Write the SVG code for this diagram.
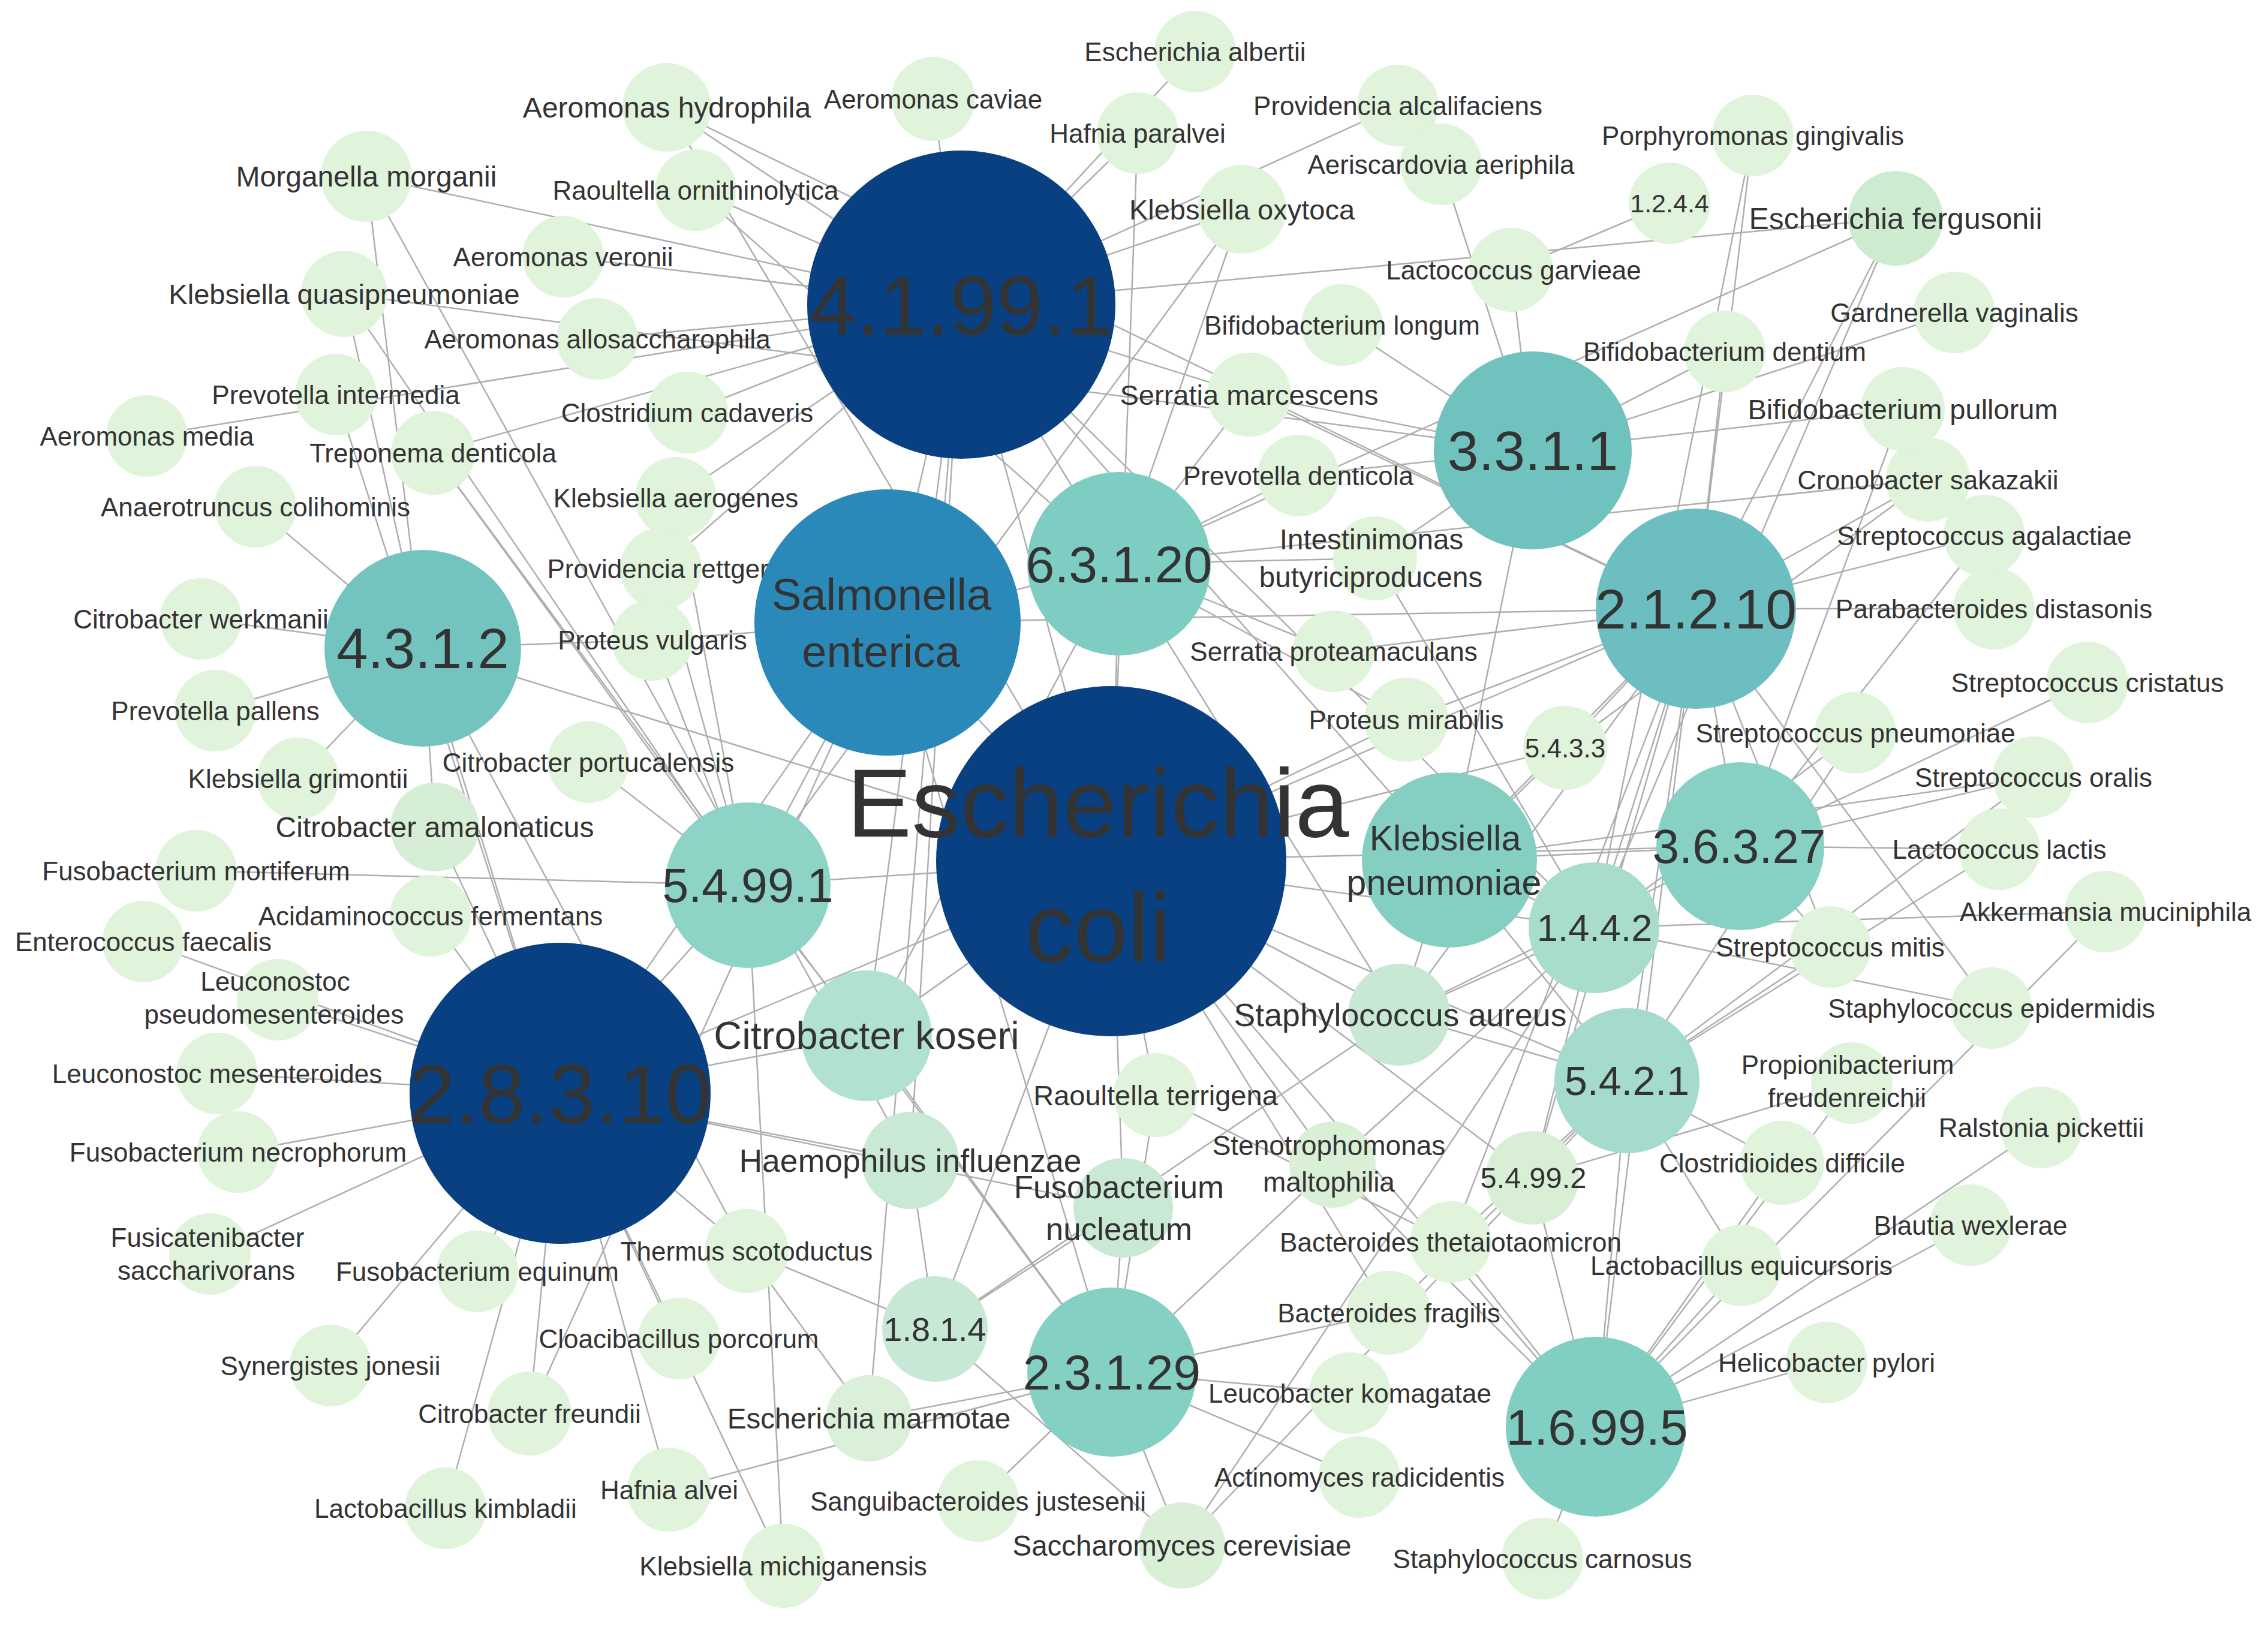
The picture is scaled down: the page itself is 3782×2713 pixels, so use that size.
<svg xmlns="http://www.w3.org/2000/svg" width="3782" height="2713" viewBox="0 0 3782 2713">
<style>
#edges line{stroke:#aeaeae;stroke-width:2.5;fill:none}
circle{fill:#e0f3db}
#nodes{font-family:"Liberation Sans",Arial,Helvetica,sans-serif;font-size:44px}
text{fill:#333333;text-anchor:middle}
.hub{fill:#084081}
</style>
<rect width="3782" height="2713" fill="#ffffff"/>
<g id="edges">
<line x1="1112" y1="179" x2="1603" y2="508"/><line x1="1112" y1="179" x2="2828" y2="1015"/><line x1="1112" y1="179" x2="1853" y2="1436"/>
<line x1="1556" y1="165" x2="1603" y2="508"/><line x1="1993" y1="86" x2="1603" y2="508"/><line x1="1897" y1="222" x2="1853" y2="1436"/>
<line x1="1897" y1="222" x2="1603" y2="508"/><line x1="2331" y1="176" x2="1603" y2="508"/><line x1="2403" y1="274" x2="2556" y2="751"/>
<line x1="2071" y1="349" x2="1603" y2="508"/><line x1="2071" y1="349" x2="1866" y2="940"/><line x1="2071" y1="349" x2="1247" y2="1476"/>
<line x1="2923" y1="226" x2="2828" y2="1015"/><line x1="2923" y1="226" x2="2658" y2="1547"/><line x1="2784" y1="339" x2="2520" y2="450"/>
<line x1="3161" y1="364" x2="1603" y2="508"/><line x1="3161" y1="364" x2="1866" y2="940"/><line x1="3161" y1="364" x2="2828" y2="1015"/>
<line x1="3161" y1="364" x2="2658" y2="1547"/><line x1="2520" y1="450" x2="2556" y2="751"/><line x1="611" y1="294" x2="1603" y2="508"/>
<line x1="611" y1="294" x2="705" y2="1081"/><line x1="611" y1="294" x2="1518" y2="1935"/><line x1="1160" y1="317" x2="1603" y2="508"/>
<line x1="1160" y1="317" x2="1866" y2="940"/><line x1="939" y1="428" x2="1603" y2="508"/><line x1="574" y1="490" x2="2556" y2="751"/>
<line x1="574" y1="490" x2="705" y2="1081"/><line x1="574" y1="490" x2="1247" y2="1476"/><line x1="996" y1="565" x2="1603" y2="508"/>
<line x1="560" y1="658" x2="934" y2="1823"/><line x1="245" y1="727" x2="1603" y2="508"/><line x1="722" y1="755" x2="1603" y2="508"/>
<line x1="722" y1="755" x2="1854" y2="2288"/><line x1="722" y1="755" x2="1247" y2="1476"/><line x1="1146" y1="688" x2="1603" y2="508"/>
<line x1="426" y1="845" x2="705" y2="1081"/><line x1="1127" y1="830" x2="1603" y2="508"/><line x1="1127" y1="830" x2="1247" y2="1476"/>
<line x1="1102" y1="948" x2="1603" y2="508"/><line x1="1102" y1="948" x2="1247" y2="1476"/><line x1="1088" y1="1067" x2="705" y2="1081"/>
<line x1="1088" y1="1067" x2="1480" y2="1038"/><line x1="1088" y1="1067" x2="1247" y2="1476"/><line x1="335" y1="1032" x2="705" y2="1081"/>
<line x1="359" y1="1185" x2="705" y2="1081"/><line x1="497" y1="1298" x2="705" y2="1081"/><line x1="981" y1="1271" x2="1247" y2="1476"/>
<line x1="725" y1="1379" x2="705" y2="1081"/><line x1="725" y1="1379" x2="934" y2="1823"/><line x1="327" y1="1452" x2="1247" y2="1476"/>
<line x1="718" y1="1527" x2="934" y2="1823"/><line x1="239" y1="1570" x2="934" y2="1823"/><line x1="463" y1="1667" x2="934" y2="1823"/>
<line x1="362" y1="1790" x2="934" y2="1823"/><line x1="397" y1="1921" x2="934" y2="1823"/><line x1="350" y1="2091" x2="934" y2="1823"/>
<line x1="551" y1="2277" x2="934" y2="1823"/><line x1="796" y1="2120" x2="934" y2="1823"/><line x1="743" y1="2515" x2="934" y2="1823"/>
<line x1="883" y1="2357" x2="934" y2="1823"/><line x1="883" y1="2357" x2="1480" y2="1038"/><line x1="1132" y1="2232" x2="934" y2="1823"/>
<line x1="1306" y1="2611" x2="934" y2="1823"/><line x1="1306" y1="2611" x2="1247" y2="1476"/><line x1="1116" y1="2484" x2="934" y2="1823"/>
<line x1="1116" y1="2484" x2="1854" y2="2288"/><line x1="1245" y1="2086" x2="934" y2="1823"/><line x1="1245" y1="2086" x2="1559" y2="2216"/>
<line x1="1245" y1="2086" x2="1449" y2="2365"/><line x1="1449" y1="2365" x2="1854" y2="2288"/><line x1="1449" y1="2365" x2="1603" y2="508"/>
<line x1="1518" y1="1935" x2="1559" y2="2216"/><line x1="1518" y1="1935" x2="934" y2="1823"/><line x1="934" y1="1823" x2="1873" y2="2014"/>
<line x1="1559" y1="2216" x2="1873" y2="2014"/><line x1="1559" y1="2216" x2="1853" y2="1436"/><line x1="1559" y1="2216" x2="1971" y2="2577"/>
<line x1="1873" y1="2014" x2="1854" y2="2288"/><line x1="1873" y1="2014" x2="1853" y2="1436"/><line x1="1927" y1="1826" x2="1853" y2="1436"/>
<line x1="1927" y1="1826" x2="1854" y2="2288"/><line x1="1927" y1="1826" x2="2419" y2="2071"/><line x1="2222" y1="1942" x2="1854" y2="2288"/>
<line x1="2222" y1="1942" x2="2658" y2="1547"/><line x1="2222" y1="1942" x2="2661" y2="2379"/><line x1="2222" y1="1942" x2="1853" y2="1436"/>
<line x1="1631" y1="2503" x2="1854" y2="2288"/><line x1="1971" y1="2577" x2="1854" y2="2288"/><line x1="1971" y1="2577" x2="2658" y2="1547"/>
<line x1="1971" y1="2577" x2="2713" y2="1802"/><line x1="2419" y1="2071" x2="2661" y2="2379"/><line x1="2419" y1="2071" x2="2713" y2="1802"/>
<line x1="2316" y1="2189" x2="1854" y2="2288"/><line x1="2316" y1="2189" x2="2713" y2="1802"/><line x1="2251" y1="2323" x2="1854" y2="2288"/>
<line x1="2267" y1="2463" x2="1854" y2="2288"/><line x1="2572" y1="2599" x2="2661" y2="2379"/><line x1="3046" y1="2272" x2="2661" y2="2379"/>
<line x1="3286" y1="2043" x2="2661" y2="2379"/><line x1="3404" y1="1880" x2="2661" y2="2379"/><line x1="2904" y1="2110" x2="2661" y2="2379"/>
<line x1="2904" y1="2110" x2="2713" y2="1802"/><line x1="2972" y1="1939" x2="2661" y2="2379"/><line x1="2972" y1="1939" x2="2713" y2="1802"/>
<line x1="3088" y1="1806" x2="2555" y2="1964"/><line x1="3088" y1="1806" x2="2661" y2="2379"/><line x1="3511" y1="1520" x2="2658" y2="1547"/>
<line x1="3511" y1="1520" x2="2661" y2="2379"/><line x1="3321" y1="1681" x2="2828" y2="1015"/><line x1="3321" y1="1681" x2="2658" y2="1547"/>
<line x1="3052" y1="1579" x2="2902" y2="1411"/><line x1="3052" y1="1579" x2="2713" y2="1802"/><line x1="3334" y1="1416" x2="2902" y2="1411"/>
<line x1="3334" y1="1416" x2="2713" y2="1802"/><line x1="3391" y1="1296" x2="2902" y2="1411"/><line x1="3391" y1="1296" x2="2417" y2="1434"/>
<line x1="3391" y1="1296" x2="2713" y2="1802"/><line x1="3481" y1="1138" x2="2902" y2="1411"/><line x1="3094" y1="1222" x2="2658" y2="1547"/>
<line x1="3094" y1="1222" x2="2713" y2="1802"/><line x1="3309" y1="893" x2="2902" y2="1411"/><line x1="3309" y1="893" x2="2828" y2="1015"/>
<line x1="3325" y1="1015" x2="2828" y2="1015"/><line x1="3215" y1="800" x2="1866" y2="940"/><line x1="3215" y1="800" x2="2828" y2="1015"/>
<line x1="3215" y1="800" x2="2610" y2="1247"/><line x1="3173" y1="682" x2="2556" y2="751"/><line x1="3173" y1="682" x2="2902" y2="1411"/>
<line x1="3259" y1="521" x2="2556" y2="751"/><line x1="2876" y1="586" x2="2556" y2="751"/><line x1="2876" y1="586" x2="2828" y2="1015"/>
<line x1="2238" y1="542" x2="2556" y2="751"/><line x1="2083" y1="658" x2="1603" y2="508"/><line x1="2083" y1="658" x2="2556" y2="751"/>
<line x1="2083" y1="658" x2="1866" y2="940"/><line x1="2083" y1="658" x2="2828" y2="1015"/><line x1="2165" y1="793" x2="1866" y2="940"/>
<line x1="2165" y1="793" x2="2556" y2="751"/><line x1="2293" y1="931" x2="1866" y2="940"/><line x1="2293" y1="931" x2="2556" y2="751"/>
<line x1="2293" y1="931" x2="2658" y2="1547"/><line x1="2224" y1="1086" x2="2828" y2="1015"/><line x1="2224" y1="1086" x2="1866" y2="940"/>
<line x1="2345" y1="1200" x2="2828" y2="1015"/><line x1="2345" y1="1200" x2="1853" y2="1436"/><line x1="2345" y1="1200" x2="1866" y2="940"/>
<line x1="2333" y1="1692" x2="2658" y2="1547"/><line x1="2333" y1="1692" x2="2902" y2="1411"/><line x1="2333" y1="1692" x2="2713" y2="1802"/>
<line x1="2333" y1="1692" x2="1853" y2="1436"/><line x1="2333" y1="1692" x2="2417" y2="1434"/><line x1="2333" y1="1692" x2="1559" y2="2216"/>
<line x1="2333" y1="1692" x2="1866" y2="940"/><line x1="2333" y1="1692" x2="2828" y2="1015"/><line x1="2417" y1="1434" x2="2902" y2="1411"/>
<line x1="1853" y1="1436" x2="2902" y2="1411"/><line x1="2417" y1="1434" x2="2828" y2="1015"/><line x1="2417" y1="1434" x2="2610" y2="1247"/>
<line x1="2417" y1="1434" x2="2658" y2="1547"/><line x1="2417" y1="1434" x2="2713" y2="1802"/><line x1="2417" y1="1434" x2="2556" y2="751"/>
<line x1="2610" y1="1247" x2="2828" y2="1015"/><line x1="2610" y1="1247" x2="1853" y2="1436"/><line x1="2828" y1="1015" x2="1853" y2="1436"/>
<line x1="2828" y1="1015" x2="1480" y2="1038"/><line x1="2828" y1="1015" x2="2419" y2="2071"/><line x1="2828" y1="1015" x2="2555" y2="1964"/>
<line x1="2828" y1="1015" x2="2658" y2="1547"/><line x1="2828" y1="1015" x2="2713" y2="1802"/><line x1="2828" y1="1015" x2="2661" y2="2379"/>
<line x1="2828" y1="1015" x2="2902" y2="1411"/><line x1="2828" y1="1015" x2="3052" y2="1579"/><line x1="1603" y1="508" x2="1480" y2="1038"/>
<line x1="1603" y1="508" x2="1445" y2="1727"/><line x1="1603" y1="508" x2="1518" y2="1935"/><line x1="1603" y1="508" x2="1853" y2="1436"/>
<line x1="1603" y1="508" x2="2417" y2="1434"/><line x1="1603" y1="508" x2="2658" y2="1547"/><line x1="1603" y1="508" x2="1866" y2="940"/>
<line x1="1480" y1="1038" x2="1247" y2="1476"/><line x1="1480" y1="1038" x2="934" y2="1823"/><line x1="1480" y1="1038" x2="1866" y2="940"/>
<line x1="1480" y1="1038" x2="1853" y2="1436"/><line x1="1480" y1="1038" x2="1854" y2="2288"/><line x1="1247" y1="1476" x2="1853" y2="1436"/>
<line x1="1247" y1="1476" x2="1445" y2="1727"/><line x1="1247" y1="1476" x2="934" y2="1823"/><line x1="705" y1="1081" x2="1853" y2="1436"/>
<line x1="705" y1="1081" x2="934" y2="1823"/><line x1="705" y1="1081" x2="1245" y2="2086"/><line x1="934" y1="1823" x2="1853" y2="1436"/>
<line x1="934" y1="1823" x2="1445" y2="1727"/><line x1="1445" y1="1727" x2="1853" y2="1436"/><line x1="1445" y1="1727" x2="1866" y2="940"/>
<line x1="1445" y1="1727" x2="1854" y2="2288"/><line x1="1866" y1="940" x2="1853" y2="1436"/><line x1="1853" y1="1436" x2="2316" y2="2189"/>
<line x1="1853" y1="1436" x2="2555" y2="1964"/><line x1="1853" y1="1436" x2="2661" y2="2379"/><line x1="1853" y1="1436" x2="2658" y2="1547"/>
<line x1="1853" y1="1436" x2="2713" y2="1802"/><line x1="2555" y1="1964" x2="2658" y2="1547"/><line x1="2555" y1="1964" x2="2661" y2="2379"/>
<line x1="2713" y1="1802" x2="2661" y2="2379"/>
</g>
<g id="nodes">
<g id="n-aer-hyd"><circle cx="1112" cy="179" r="74"/><text x="1112" y="196" font-size="48">Aeromonas hydrophila</text></g>
<g id="n-aer-cav"><circle cx="1556" cy="165" r="70"/><text x="1556" y="181">Aeromonas caviae</text></g>
<g id="n-esc-alb"><circle cx="1993" cy="86" r="68"/><text x="1993" y="102">Escherichia albertii</text></g>
<g id="n-haf-par"><circle cx="1897" cy="222" r="68"/><text x="1897" y="238">Hafnia paralvei</text></g>
<g id="n-pro-alc"><circle cx="2331" cy="176" r="68"/><text x="2331" y="192">Providencia alcalifaciens</text></g>
<g id="n-aer-aer"><circle cx="2403" cy="274" r="68"/><text x="2403" y="290">Aeriscardovia aeriphila</text></g>
<g id="n-kle-oxy"><circle cx="2071" cy="349" r="74"/><text x="2071" y="366" font-size="47">Klebsiella oxytoca</text></g>
<g id="n-por-gin"><circle cx="2923" cy="226" r="68"/><text x="2923" y="242">Porphyromonas gingivalis</text></g>
<g id="n-1244"><circle cx="2784" cy="339" r="68"/><text x="2784" y="354" font-size="43">1.2.4.4</text></g>
<g id="n-esc-fer"><circle cx="3161" cy="364" r="79" style="fill:#cdebcf"/><text x="3161" y="382" font-size="50">Escherichia fergusonii</text></g>
<g id="n-lac-gar"><circle cx="2520" cy="450" r="70"/><text x="2524" y="466">Lactococcus garvieae</text></g>
<g id="n-mor-mor"><circle cx="611" cy="294" r="76"/><text x="611" y="311" font-size="48">Morganella morganii</text></g>
<g id="n-rao-orn"><circle cx="1160" cy="317" r="68"/><text x="1160" y="333">Raoultella ornithinolytica</text></g>
<g id="n-aer-ver"><circle cx="939" cy="428" r="68"/><text x="939" y="444">Aeromonas veronii</text></g>
<g id="n-kle-qua"><circle cx="574" cy="490" r="72"/><text x="574" y="507" font-size="47">Klebsiella quasipneumoniae</text></g>
<g id="n-aer-all"><circle cx="996" cy="565" r="68"/><text x="996" y="581">Aeromonas allosaccharophila</text></g>
<g id="n-pre-int"><circle cx="560" cy="658" r="68"/><text x="560" y="674">Prevotella intermedia</text></g>
<g id="n-aer-med"><circle cx="245" cy="727" r="68"/><text x="245" y="743">Aeromonas media</text></g>
<g id="n-tre-den"><circle cx="722" cy="755" r="70"/><text x="722" y="771">Treponema denticola</text></g>
<g id="n-clo-cad"><circle cx="1146" cy="688" r="68"/><text x="1146" y="704">Clostridium cadaveris</text></g>
<g id="n-ana-col"><circle cx="426" cy="845" r="68"/><text x="426" y="861">Anaerotruncus colihominis</text></g>
<g id="n-kle-aer"><circle cx="1127" cy="830" r="68"/><text x="1127" y="846">Klebsiella aerogenes</text></g>
<g id="n-pro-ret"><circle cx="1102" cy="948" r="68"/><text x="1102" y="964">Providencia rettgeri</text></g>
<g id="n-pro-vul"><circle cx="1088" cy="1067" r="68"/><text x="1088" y="1083">Proteus vulgaris</text></g>
<g id="n-cit-wer"><circle cx="335" cy="1032" r="68"/><text x="335" y="1048">Citrobacter werkmanii</text></g>
<g id="n-pre-pal"><circle cx="359" cy="1185" r="68"/><text x="359" y="1201">Prevotella pallens</text></g>
<g id="n-kle-gri"><circle cx="497" cy="1298" r="68"/><text x="497" y="1314">Klebsiella grimontii</text></g>
<g id="n-cit-por"><circle cx="981" cy="1271" r="68"/><text x="981" y="1287">Citrobacter portucalensis</text></g>
<g id="n-cit-ama"><circle cx="725" cy="1379" r="74" style="fill:#d6eed5"/><text x="725" y="1396" font-size="48">Citrobacter amalonaticus</text></g>
<g id="n-fus-mor"><circle cx="327" cy="1452" r="68"/><text x="327" y="1468">Fusobacterium mortiferum</text></g>
<g id="n-aci-fer"><circle cx="718" cy="1527" r="68"/><text x="718" y="1543">Acidaminococcus fermentans</text></g>
<g id="n-ent-fae"><circle cx="239" cy="1570" r="68"/><text x="239" y="1586">Enterococcus faecalis</text></g>
<g id="n-leu-pse"><circle cx="463" cy="1667" r="68"/><text x="459" y="1652">Leuconostoc</text><text x="457" y="1707">pseudomesenteroides</text></g>
<g id="n-leu-mes"><circle cx="362" cy="1790" r="68"/><text x="362" y="1806">Leuconostoc mesenteroides</text></g>
<g id="n-fus-nec"><circle cx="397" cy="1921" r="68"/><text x="397" y="1937">Fusobacterium necrophorum</text></g>
<g id="n-fus-sac"><circle cx="350" cy="2091" r="68"/><text x="346" y="2079">Fusicatenibacter</text><text x="344" y="2134">saccharivorans</text></g>
<g id="n-fus-equ"><circle cx="796" cy="2120" r="68"/><text x="796" y="2136">Fusobacterium equinum</text></g>
<g id="n-syn-jon"><circle cx="551" cy="2277" r="68"/><text x="551" y="2293">Synergistes jonesii</text></g>
<g id="n-cit-fre"><circle cx="883" cy="2357" r="70"/><text x="883" y="2373">Citrobacter freundii</text></g>
<g id="n-clo-por"><circle cx="1132" cy="2232" r="68"/><text x="1132" y="2248">Cloacibacillus porcorum</text></g>
<g id="n-lac-kim"><circle cx="743" cy="2515" r="68"/><text x="743" y="2531">Lactobacillus kimbladii</text></g>
<g id="n-haf-alv"><circle cx="1116" cy="2484" r="70"/><text x="1116" y="2500">Hafnia alvei</text></g>
<g id="n-the-sco"><circle cx="1245" cy="2086" r="70"/><text x="1245" y="2102">Thermus scotoductus</text></g>
<g id="n-kle-mic"><circle cx="1306" cy="2611" r="70"/><text x="1306" y="2627">Klebsiella michiganensis</text></g>
<g id="n-esc-mar"><circle cx="1449" cy="2365" r="72" style="fill:#dbf0d8"/><text x="1449" y="2382" font-size="47.5">Escherichia marmotae</text></g>
<g id="n-san-jus"><circle cx="1631" cy="2503" r="68"/><text x="1631" y="2519">Sanguibacteroides justesenii</text></g>
<g id="n-sac-cer"><circle cx="1971" cy="2577" r="72" style="fill:#d9f0d7"/><text x="1971" y="2594" font-size="47.5">Saccharomyces cerevisiae</text></g>
<g id="n-rao-ter"><circle cx="1927" cy="1826" r="70"/><text x="1927" y="1843" font-size="47">Raoultella terrigena</text></g>
<g id="n-ste-mal"><circle cx="2222" cy="1942" r="72" style="fill:#d9f0d7"/><text x="2216" y="1926" font-size="46">Stenotrophomonas</text><text x="2216" y="1987" font-size="46">maltophilia</text></g>
<g id="n-bac-the"><circle cx="2419" cy="2071" r="68"/><text x="2419" y="2087">Bacteroides thetaiotaomicron</text></g>
<g id="n-bac-fra"><circle cx="2316" cy="2189" r="70"/><text x="2316" y="2205">Bacteroides fragilis</text></g>
<g id="n-leu-kom"><circle cx="2251" cy="2323" r="68"/><text x="2251" y="2339">Leucobacter komagatae</text></g>
<g id="n-act-rad"><circle cx="2267" cy="2463" r="68"/><text x="2267" y="2479">Actinomyces radicidentis</text></g>
<g id="n-sta-car"><circle cx="2572" cy="2599" r="68"/><text x="2572" y="2615">Staphylococcus carnosus</text></g>
<g id="n-hel-pyl"><circle cx="3046" cy="2272" r="68"/><text x="3046" y="2288">Helicobacter pylori</text></g>
<g id="n-bla-wex"><circle cx="3286" cy="2043" r="68"/><text x="3286" y="2059">Blautia wexlerae</text></g>
<g id="n-ral-pic"><circle cx="3404" cy="1880" r="68"/><text x="3404" y="1896">Ralstonia pickettii</text></g>
<g id="n-lac-equ"><circle cx="2904" cy="2110" r="68"/><text x="2904" y="2126">Lactobacillus equicursoris</text></g>
<g id="n-clo-dif"><circle cx="2972" cy="1939" r="70"/><text x="2972" y="1955">Clostridioides difficile</text></g>
<g id="n-pro-fre"><circle cx="3088" cy="1806" r="68"/><text x="3081" y="1791">Propionibacterium</text><text x="3080" y="1846">freudenreichii</text></g>
<g id="n-sta-epi"><circle cx="3321" cy="1681" r="68"/><text x="3321" y="1697">Staphylococcus epidermidis</text></g>
<g id="n-akk-muc"><circle cx="3511" cy="1520" r="68"/><text x="3511" y="1536">Akkermansia muciniphila</text></g>
<g id="n-str-mit"><circle cx="3052" cy="1579" r="68"/><text x="3052" y="1595">Streptococcus mitis</text></g>
<g id="n-lac-lac"><circle cx="3334" cy="1416" r="68"/><text x="3334" y="1432">Lactococcus lactis</text></g>
<g id="n-str-ora"><circle cx="3391" cy="1296" r="68"/><text x="3391" y="1312">Streptococcus oralis</text></g>
<g id="n-str-cri"><circle cx="3481" cy="1138" r="68"/><text x="3481" y="1154">Streptococcus cristatus</text></g>
<g id="n-str-pne"><circle cx="3094" cy="1222" r="68"/><text x="3094" y="1238">Streptococcus pneumoniae</text></g>
<g id="n-5433"><circle cx="2610" cy="1247" r="70"/><text x="2610" y="1263">5.4.3.3</text></g>
<g id="n-par-dis"><circle cx="3325" cy="1015" r="68"/><text x="3325" y="1031">Parabacteroides distasonis</text></g>
<g id="n-str-aga"><circle cx="3309" cy="893" r="68"/><text x="3309" y="909">Streptococcus agalactiae</text></g>
<g id="n-cro-sak"><circle cx="3215" cy="800" r="70"/><text x="3215" y="816">Cronobacter sakazakii</text></g>
<g id="n-bif-pul"><circle cx="3173" cy="682" r="70"/><text x="3173" y="699" font-size="47">Bifidobacterium pullorum</text></g>
<g id="n-gar-vag"><circle cx="3259" cy="521" r="68"/><text x="3259" y="537">Gardnerella vaginalis</text></g>
<g id="n-bif-den"><circle cx="2876" cy="586" r="68"/><text x="2876" y="602">Bifidobacterium dentium</text></g>
<g id="n-bif-lon"><circle cx="2238" cy="542" r="68"/><text x="2238" y="558">Bifidobacterium longum</text></g>
<g id="n-ser-mar"><circle cx="2083" cy="658" r="70"/><text x="2083" y="675" font-size="47">Serratia marcescens</text></g>
<g id="n-pre-den"><circle cx="2165" cy="793" r="68"/><text x="2165" y="809">Prevotella denticola</text></g>
<g id="n-int-but"><circle cx="2293" cy="931" r="70"/><text x="2287" y="916" font-size="47.5">Intestinimonas</text><text x="2286" y="979" font-size="47.5">butyriciproducens</text></g>
<g id="n-ser-pro"><circle cx="2224" cy="1086" r="68"/><text x="2224" y="1102">Serratia proteamaculans</text></g>
<g id="n-pro-mir"><circle cx="2345" cy="1200" r="70"/><text x="2345" y="1216">Proteus mirabilis</text></g>
<g id="n-54992"><circle cx="2555" cy="1964" r="78" style="fill:#d8efd6"/><text x="2557" y="1981" font-size="49">5.4.99.2</text></g>
<g id="n-hae-inf"><circle cx="1518" cy="1935" r="81" style="fill:#c9e9d4"/><text x="1518" y="1954" font-size="53.5">Haemophilus influenzae</text></g>
<g id="n-fus-nuc"><circle cx="1873" cy="2014" r="83" style="fill:#c9e9d4"/><text x="1866" y="1998" font-size="53">Fusobacterium</text><text x="1866" y="2068" font-size="53">nucleatum</text></g>
<g id="n-sta-aur"><circle cx="2333" cy="1692" r="85" style="fill:#c8e8d3"/><text x="2335" y="1711" font-size="53.7">Staphylococcus aureus</text></g>
<g id="n-1814"><circle cx="1559" cy="2216" r="88" style="fill:#c6e8d4"/><text x="1559" y="2236" font-size="56">1.8.1.4</text></g>
<g id="n-cko"><circle cx="1445" cy="1727" r="109" style="fill:#b1e1d1"/><text x="1445" y="1749" font-size="65">Citrobacter koseri</text></g>
<g id="n-1442"><circle cx="2658" cy="1547" r="109" style="fill:#a8ddcd"/><text x="2659" y="1569" font-size="63">1.4.4.2</text></g>
<g id="n-5421"><circle cx="2713" cy="1802" r="121" style="fill:#a4dbcc"/><text x="2713" y="1826" font-size="68">5.4.2.1</text></g>
<g id="n-54991"><circle cx="1247" cy="1476" r="138" style="fill:#8dd4c6"/><text x="1247" y="1504" font-size="79">5.4.99.1</text></g>
<g id="n-36327"><circle cx="2902" cy="1411" r="140" style="fill:#87d1c4"/><text x="2900" y="1439" font-size="80">3.6.3.27</text></g>
<g id="n-23129"><circle cx="1854" cy="2288" r="141" style="fill:#84d0c3"/><text x="1854" y="2317" font-size="82">2.3.1.29</text></g>
<g id="n-16995"><circle cx="2661" cy="2379" r="150" style="fill:#81cfc3"/><text x="2663" y="2409" font-size="84">1.6.99.5</text></g>
<g id="n-kpn"><circle cx="2417" cy="1434" r="146" style="fill:#84cfc2"/><text x="2410" y="1418" font-size="59">Klebsiella</text><text x="2408" y="1492" font-size="59">pneumoniae</text></g>
<g id="n-6320"><circle cx="1866" cy="940" r="153" style="fill:#7dcdc2"/><text x="1866" y="971" font-size="86">6.3.1.20</text></g>
<g id="n-4312"><circle cx="705" cy="1081" r="164" style="fill:#73c4bf"/><text x="705" y="1114" font-size="94">4.3.1.2</text></g>
<g id="n-3311"><circle cx="2556" cy="751" r="165" style="fill:#70c2bf"/><text x="2556" y="784" font-size="93">3.3.1.1</text></g>
<g id="n-21210"><circle cx="2828" cy="1015" r="167" style="fill:#6dbec0"/><text x="2828" y="1048" font-size="93">2.1.2.10</text></g>
<g id="n-sal"><circle cx="1480" cy="1038" r="222" style="fill:#2b89b9"/><text x="1470" y="1017" font-size="74">Salmonella</text><text x="1469" y="1112" font-size="74">enterica</text></g>
<g id="n-4199"><circle class="hub" cx="1603" cy="508" r="257"/><text x="1603" y="558" font-size="140">4.1.99.1</text></g>
<g id="n-28310"><circle class="hub" cx="934" cy="1823" r="251"/><text x="934" y="1873" font-size="140">2.8.3.10</text></g>
<g id="n-ecoli"><circle class="hub" cx="1853" cy="1436" r="292"/><text x="1831" y="1395" font-size="162">Escherichia</text><text x="1831" y="1603" font-size="162">coli</text></g>
</g>
</svg>
